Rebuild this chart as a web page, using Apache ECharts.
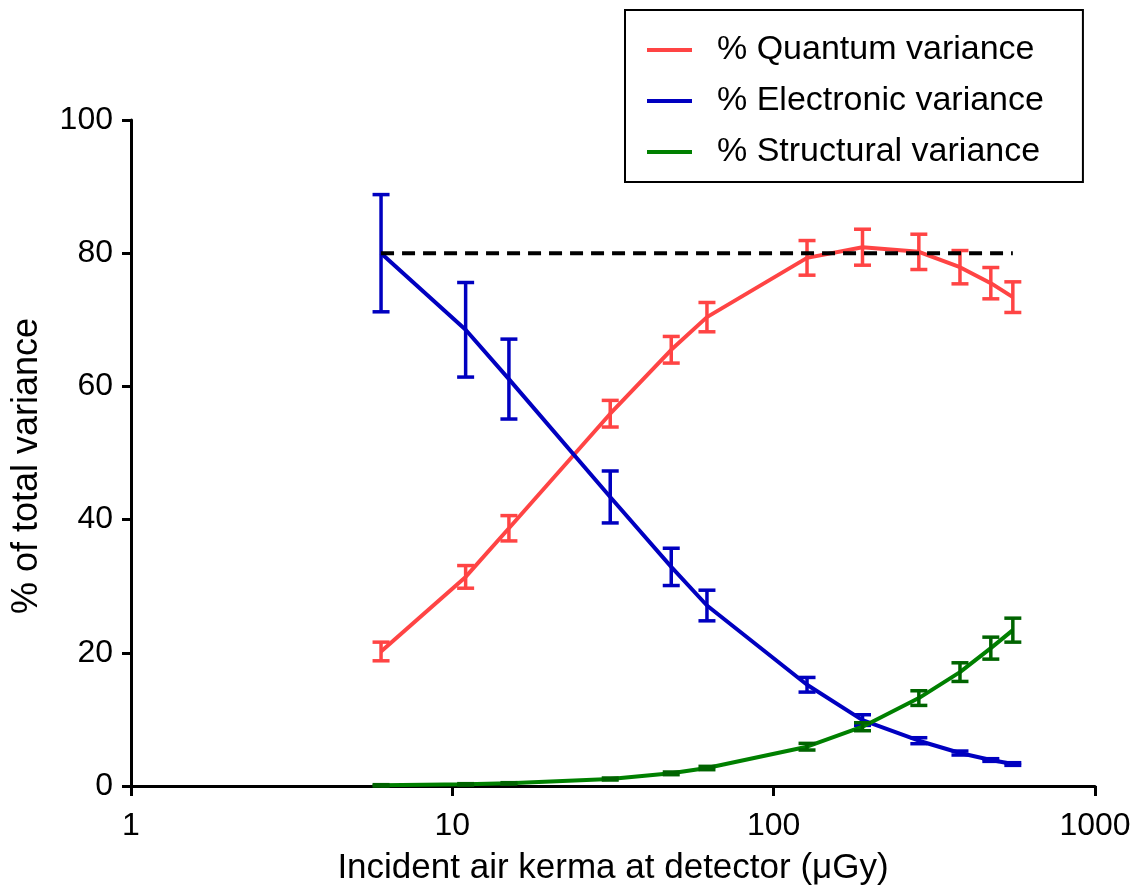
<!DOCTYPE html>
<html>
<head>
<meta charset="utf-8">
<title>Variance components vs incident air kerma</title>
<script src="https://cdn.jsdelivr.net/npm/echarts@6/dist/echarts.min.js"></script>
<style>
  html, body { margin: 0; padding: 0; background: #ffffff; }
  #chart { width: 1141px; height: 891px; }
</style>
</head>
<body>
<div id="chart"></div>
<script>
// Incident air kerma at the detector (µGy)
const kerma = [6, 11, 15, 31, 48, 62, 127, 189, 283, 380, 474, 555];

// Share of total variance (%) with error half-widths
const quantum       = [20.2, 31.4, 38.7, 55.9, 65.5, 70.4, 79.3, 80.9, 80.2, 77.9, 75.5, 73.4];
const quantumErr    = [1.4, 1.7, 1.9, 2.0, 2.0, 2.2, 2.6, 2.7, 2.65, 2.5, 2.35, 2.3];
const electronic    = [80.0, 68.5, 61.1, 43.4, 32.9, 27.1, 15.2, 9.9, 6.8, 4.95, 3.9, 3.3];
const electronicErr = [8.8, 7.1, 6.0, 3.9, 2.8, 2.3, 1.1, 0.8, 0.45, 0.3, 0.2, 0.2];
const structural    = [0.1, 0.25, 0.4, 1.05, 1.9, 2.7, 5.9, 8.9, 13.2, 17.1, 20.7, 23.4];
const structuralErr = [0.1, 0.1, 0.1, 0.15, 0.2, 0.25, 0.5, 0.6, 1.1, 1.4, 1.65, 1.8];

// Reference level (80 %) drawn across the measured range
const referenceLevel = 80;

const seriesNames = ['% Quantum variance', '% Electronic variance', '% Structural variance'];
const yTicks = [0, 20, 40, 60, 80, 100];

const FONT = '"Liberation Sans", Arial, Helvetica, sans-serif';
const RED = '#ff4444';
const BLUE = '#0000c0';
const GREEN = '#008000';
const GREEN_BAR = '#006400';

function pairs(xs, ys) {
  return xs.map((x, i) => [x, ys[i]]);
}

function lineSeries(name, values, color, z) {
  return {
    name: name,
    type: 'line',
    data: pairs(kerma, values),
    showSymbol: false,
    symbol: 'none',
    lineStyle: { color: color, width: 4 },
    itemStyle: { color: color },
    z: z,
    silent: true,
    animation: false
  };
}

function errorSeries(name, values, errs, color, z) {
  return {
    name: name + ' error',
    type: 'custom',
    data: kerma.map((x, i) => [x, values[i] - errs[i], values[i] + errs[i]]),
    encode: { x: 0, y: [1, 2] },
    renderItem: function (params, api) {
      const lo = api.coord([api.value(0), api.value(1)]);
      const hi = api.coord([api.value(0), api.value(2)]);
      const hw = 8.5;
      const style = { stroke: color, lineWidth: 3.5, fill: null };
      return {
        type: 'group',
        children: [
          { type: 'line', shape: { x1: hi[0], y1: hi[1], x2: lo[0], y2: lo[1] }, style: style },
          { type: 'line', shape: { x1: hi[0] - hw, y1: hi[1], x2: hi[0] + hw, y2: hi[1] }, style: style },
          { type: 'line', shape: { x1: lo[0] - hw, y1: lo[1], x2: lo[0] + hw, y2: lo[1] }, style: style }
        ]
      };
    },
    z: z,
    silent: true,
    animation: false
  };
}

const chart = echarts.init(document.getElementById('chart'), null, { renderer: 'canvas' });

chart.setOption({
  backgroundColor: '#ffffff',
  animation: false,
  textStyle: { fontFamily: FONT, color: '#000' },
  grid: { left: 131, right: 46, top: 120, bottom: 105, containLabel: false },
  legend: {
    data: seriesNames,
    orient: 'vertical',
    left: 625,
    top: 10,
    padding: [23, 39, 13, 22],
    itemGap: 17,
    itemWidth: 45,
    itemHeight: 4,
    icon: 'rect',
    borderColor: '#000',
    borderWidth: 2,
    backgroundColor: '#fff',
    selectedMode: false,
    textStyle: {
      fontFamily: FONT,
      fontSize: 34,
      color: '#000',
      lineHeight: 34,
      padding: [0, 0, 0, 20]
    }
  },
  xAxis: {
    type: 'log',
    logBase: 10,
    min: 1,
    max: 1000,
    name: 'Incident air kerma at detector (\u03bcGy)',
    nameLocation: 'middle',
    nameGap: 65,
    nameTextStyle: { fontFamily: FONT, fontSize: 35, color: '#000' },
    axisLine: { show: true, onZero: false, lineStyle: { color: '#000', width: 3 } },
    axisTick: { show: true, length: 10, inside: false, lineStyle: { color: '#000', width: 3 } },
    minorTick: { show: false },
    splitLine: { show: false },
    axisLabel: {
      fontFamily: FONT, fontSize: 32, color: '#000', margin: 24,
      formatter: v => String(Math.round(v))
    }
  },
  yAxis: {
    type: 'value',
    min: yTicks[0],
    max: yTicks[yTicks.length - 1],
    interval: 20,
    name: '% of total variance',
    nameLocation: 'middle',
    nameRotate: 90,
    nameGap: 86,
    nameTextStyle: { fontFamily: FONT, fontSize: 36, color: '#000', padding: [0, 26, 0, 0] },
    axisLine: { show: true, onZero: false, lineStyle: { color: '#000', width: 3 } },
    axisTick: { show: true, length: 9, lineStyle: { color: '#000', width: 3 } },
    splitLine: { show: false },
    axisLabel: { fontFamily: FONT, fontSize: 32, color: '#000', margin: 18 }
  },
  series: [
    lineSeries(seriesNames[0], quantum, RED, 2),
    errorSeries(seriesNames[0], quantum, quantumErr, RED, 3),
    lineSeries(seriesNames[1], electronic, BLUE, 4),
    errorSeries(seriesNames[1], electronic, electronicErr, BLUE, 5),
    lineSeries(seriesNames[2], structural, GREEN, 6),
    errorSeries(seriesNames[2], structural, structuralErr, GREEN_BAR, 7),
    {
      name: 'reference',
      type: 'line',
      data: [[kerma[0], referenceLevel], [kerma[kerma.length - 1], referenceLevel]],
      showSymbol: false,
      symbol: 'none',
      lineStyle: { color: '#000', width: 4, type: [13, 8] },
      z: 8,
      silent: true,
      animation: false
    }
  ]
});
</script>
</body>
</html>
